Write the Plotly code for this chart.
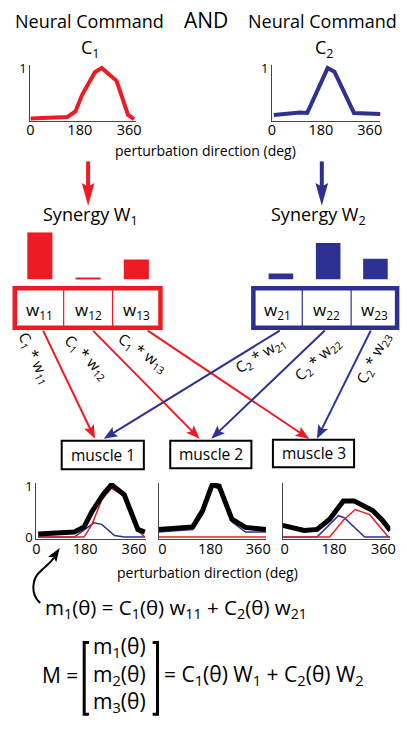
import math
import plotly.graph_objects as go

W, H = 407, 733
RED = '#ED1C24'
BLUE = '#2E3192'
FONT = 'Open Sans'

# ---------------- data ----------------
c1_deg = [0, 135, 164, 189, 235, 260, 314, 356, 378]
c1_val = [0.01, 0.04, 0.15, 0.48, 0.92, 1.0, 0.75, 0.08, 0.0]
c2_deg = [7, 104, 130, 205, 230, 302, 400]
c2_val = [0.08, 0.13, 0.12, 1.0, 0.93, 0.12, 0.1]

w_labels = ['1', '2', '3']
w1_vals = [1.0, 0.04, 0.42]
w2_vals = [0.125, 0.77, 0.44]

m1_deg = [7, 140, 176, 205, 248, 277, 324, 374, 400]
m1_total = [0.06, 0.1, 0.2, 0.5, 0.85, 1.03, 0.83, 0.15, 0.1]
m1_c1_deg = [7, 176, 205, 241, 277, 324, 374, 400]
m1_c1 = [0, 0, 0.25, 0.73, 0.96, 0.8, 0.13, 0]
m1_c2_deg = [7, 140, 212, 241, 288, 324, 400]
m1_c2 = [0, 0, 0.28, 0.25, 0.03, 0, 0]

m2_deg = [-15, 114, 151, 187, 213, 261, 312, 389]
m2_total = [0.15, 0.2, 0.52, 1.03, 1.0, 0.35, 0.19, 0.15]
m2_c2 = [0.1, 0.15, 0.45, 0.99, 0.95, 0.3, 0.1, 0.1]
m2_c1 = [0, 0, 0, 0, 0, 0, 0, 0]

m3_deg = [-7, 71, 118, 164, 214, 253, 321, 356, 385]
m3_total = [0.23, 0.13, 0.15, 0.35, 0.71, 0.71, 0.52, 0.33, 0.13]
m3_c1_deg = [-7, 164, 214, 257, 310, 360, 378, 385]
m3_c1 = [0, 0, 0.33, 0.54, 0.44, 0.13, 0, 0]
m3_c2_deg = [-7, 118, 196, 217, 292, 385]
m3_c2 = [0, 0, 0.42, 0.38, 0, 0]

tick_deg = [0, 180, 360]
tick_txt = ['0', '180', '360']

# ---------------- helpers ----------------
def px(x):
    return x / W

def py(y):
    return 1 - y / H

def xdom(a, b):
    return [a / W, b / W]

def ydom(top, bottom):
    return [1 - bottom / H, 1 - top / H]

fig = go.Figure()
layout = dict(width=W, height=H, margin=dict(l=0, r=0, t=0, b=0),
              paper_bgcolor='white', plot_bgcolor='rgba(0,0,0,0)',
              showlegend=False, font=dict(family=FONT, color='black'))

shapes = []
annots = []

# line plots
plots = [
    (1, (27, 135), (60, 117), [0, 385], [1]),
    (2, (274, 385), (60, 117), [0, 399.6], [1]),
    (3, (33, 145), (485, 542), [0, 403.2], [0, 1]),
    (4, (158, 268), (485, 542), [-14.7, 389.4], []),
    (5, (285, 395), (485, 542), [-7.1, 385], []),
]
for idx, xd, yd, xr, yt in plots:
    sfx = '' if idx == 1 else str(idx)
    layout['xaxis' + sfx] = dict(domain=xdom(*xd), range=xr, anchor='y' + sfx,
                                 showline=True, linecolor='#444', linewidth=1,
                                 showgrid=False, zeroline=False,
                                 tickvals=tick_deg, ticktext=tick_txt,
                                 ticks='', ticklabelstandoff=-4,
                                 tickfont=dict(size=14.5, family=FONT, color='black'),
                                 fixedrange=True)
    layout['yaxis' + sfx] = dict(domain=ydom(*yd), range=[-0.04, 1.06], anchor='x' + sfx,
                                 showline=True, linecolor='#444', linewidth=1,
                                 showgrid=False, zeroline=False,
                                 tickvals=yt, ticktext=[str(v) for v in yt],
                                 ticks='', ticklabelstandoff=0,
                                 tickfont=dict(size=13, family=FONT, color='black'),
                                 fixedrange=True)

def line(xs, ys, ax, color, width):
    fig.add_trace(go.Scatter(x=xs, y=ys, mode='lines', xaxis='x' + ax, yaxis='y' + ax,
                             line=dict(color=color, width=width), hoverinfo='skip'))

line(c1_deg, c1_val, '', RED, 4)
line(c2_deg, c2_val, '2', BLUE, 4)
line(m1_c2_deg, m1_c2, '3', BLUE, 1.5)
line(m1_c1_deg, m1_c1, '3', RED, 1.5)
line(m1_deg, m1_total, '3', 'black', 5)
line(m2_deg, m2_c1, '4', RED, 1.5)
line(m2_deg, m2_c2, '4', BLUE, 1.5)
line(m2_deg, m2_total, '4', 'black', 5)
line(m3_c2_deg, m3_c2, '5', BLUE, 1.5)
line(m3_c1_deg, m3_c1, '5', RED, 1.5)
line(m3_deg, m3_total, '5', 'black', 5)

# bar plots (synergy weights)
for idx, xd, vals, color in [(6, (12, 160), w1_vals, RED), (7, (259, 404), w2_vals, BLUE)]:
    s = str(idx)
    layout['xaxis' + s] = dict(domain=xdom(*xd), range=[-0.5, 2.5], visible=False,
                               anchor='y' + s, fixedrange=True, type='category')
    layout['yaxis' + s] = dict(domain=ydom(230, 278), range=[0, 1], visible=False,
                               anchor='x' + s, fixedrange=True)
    fig.add_trace(go.Bar(x=w_labels, y=vals, xaxis='x' + s, yaxis='y' + s,
                         marker=dict(color=color, line=dict(width=0)), width=0.52,
                         hoverinfo='skip'))

# ---------------- shapes ----------------
def seg(x0, y0, x1, y1, color, width):
    shapes.append(dict(type='line', xref='paper', yref='paper',
                       x0=px(x0), y0=py(y0), x1=px(x1), y1=py(y1),
                       line=dict(color=color, width=width)))

def poly(pts, color, closed=True, width=0, fill=True):
    d = 'M ' + ' L '.join(f'{px(x):.5f},{py(y):.5f}' for x, y in pts)
    if closed:
        d += ' Z'
    shapes.append(dict(type='path', xref='paper', yref='paper', path=d,
                       fillcolor=color if fill else 'rgba(0,0,0,0)',
                       line=dict(color=color, width=width)))

def arrow(x0, y0, x1, y1, color, width, hl, hw, notch=0.8):
    dx, dy = x1 - x0, y1 - y0
    L = math.hypot(dx, dy)
    ux, uy = dx / L, dy / L
    nx, ny = -uy, ux
    bx, by = x1 - ux * hl, y1 - uy * hl
    kx, ky = x1 - ux * hl * notch, y1 - uy * hl * notch
    seg(x0, y0, kx + ux * 1, ky + uy * 1, color, width)
    poly([(x1, y1), (bx + nx * hw / 2, by + ny * hw / 2), (kx, ky),
          (bx - nx * hw / 2, by - ny * hw / 2)], color)

def rect(x0, y0, x1, y1, color, width):
    shapes.append(dict(type='rect', xref='paper', yref='paper',
                       x0=px(x0), y0=py(y0), x1=px(x1), y1=py(y1),
                       line=dict(color=color, width=width), fillcolor='rgba(0,0,0,0)'))

# top arrows
arrow(86, 158, 86, 203, RED, 4, 23, 13, 0.85)
arrow(325, 158, 325, 203, BLUE, 4, 23, 13, 0.85)

# synergy boxes
rect(11, 287, 160, 327, RED, 4.5)
seg(61, 287, 61, 327, RED, 1.2)
seg(111, 287, 111, 327, RED, 1.2)
rect(255, 287, 402, 327, BLUE, 4.5)
seg(305, 287, 305, 327, BLUE, 1.2)
seg(355, 287, 355, 327, BLUE, 1.2)

# connection arrows
arrow(40, 330, 93, 440, RED, 2, 14, 11)
arrow(91, 330, 200, 440, RED, 2, 14, 11)
arrow(147, 330, 312, 440, RED, 2, 14, 11)
arrow(282, 330, 102, 440, BLUE, 2, 14, 11)
arrow(328, 330, 212, 440, BLUE, 2, 14, 11)
arrow(375, 330, 320, 440, BLUE, 2, 14, 11)

# muscle boxes
for (x0, y0, x1, y1) in [(59, 442, 143, 471), (170, 442, 253, 470), (275, 441, 358, 469)]:
    rect(x0, y0, x1, y1, 'black', 2)

# curly arrow
d = (f'M {px(37):.5f},{py(607):.5f} C {px(27):.5f},{py(598):.5f} {px(28):.5f},{py(582):.5f} '
     f'{px(38):.5f},{py(574):.5f} C {px(45):.5f},{py(568):.5f} {px(49):.5f},{py(564):.5f} '
     f'{px(51):.5f},{py(561):.5f}')
shapes.append(dict(type='path', xref='paper', yref='paper', path=d,
                   line=dict(color='black', width=2)))
arrow(47, 566, 57, 551, 'black', 0.1, 14, 10, 0.8)

# brackets
poly([(87, 647), (82, 647), (82, 720), (87, 720)], 'black', closed=False, width=3, fill=False)
poly([(152, 647), (157, 647), (157, 720), (152, 720)], 'black', closed=False, width=3, fill=False)

# ---------------- text ----------------
def txt(x, y, s, size, angle=0, xanchor='center'):
    annots.append(dict(x=px(x), y=py(y), xref='paper', yref='paper', text=s,
                       showarrow=False, textangle=angle, xanchor=xanchor, yanchor='middle',
                       font=dict(size=size, family=FONT, color='black')))

txt(87, 15, 'Neural Command', 18)
txt(326, 15, 'Neural Command', 18)
txt(207, 14, 'AND', 21)
txt(88, 43, 'C<sub>1</sub>', 18)
txt(328, 43, 'C<sub>2</sub>', 18)
txt(206, 147, 'perturbation direction (deg)', 14)
txt(88, 213, 'Synergy W<sub>1</sub>', 18)
txt(322, 213, 'Synergy W<sub>2</sub>', 18)
for cx, lab in [(36, '11'), (86, '12'), (135.5, '13'), (280, '21'), (330, '22'), (378.5, '23')]:
    txt(cx, 310, f'w<sub>{lab}</sub>', 17)
txt(31, 358, 'C<sub>1</sub> * w<sub>11</sub>', 15, 64)
txt(84, 357, 'C<sub>1</sub> * w<sub>12</sub>', 15, 45)
txt(142, 353, 'C<sub>1</sub> * w<sub>13</sub>', 15, 34)
txt(262, 355, 'C<sub>2</sub> * w<sub>21</sub>', 15, -32)
txt(321, 359, 'C<sub>2</sub> * w<sub>22</sub>', 15, -43)
txt(378, 358, 'C<sub>2</sub> * w<sub>23</sub>', 15, -63)
txt(101, 456, 'muscle 1', 15.5)
txt(211.5, 455.5, 'muscle 2', 15.5)
txt(316.5, 454.5, 'muscle 3', 15.5)
txt(208, 576, 'perturbation direction (deg)', 14)
txt(176, 612, 'm<sub>1</sub>(θ) = C<sub>1</sub>(θ) w<sub>11</sub> + C<sub>2</sub>(θ) w<sub>21</sub>', 20.5)
txt(78, 680, 'M =', 21, xanchor='right')
txt(118, 652, 'm<sub>1</sub>(θ)', 21)
txt(118, 680, 'm<sub>2</sub>(θ)', 21)
txt(118, 708, 'm<sub>3</sub>(θ)', 21)
txt(162, 680, '= C<sub>1</sub>(θ) W<sub>1</sub> + C<sub>2</sub>(θ) W<sub>2</sub>', 21, xanchor='left')

layout['shapes'] = shapes
layout['annotations'] = annots
fig.update_layout(**layout)
fig.write_html('out.html', config={'displayModeBar': False},
               post_script="document.body.style.margin='0';document.body.style.overflow='hidden';")
